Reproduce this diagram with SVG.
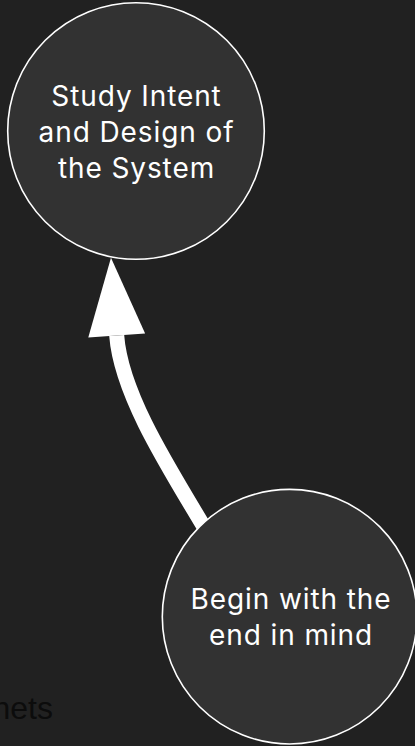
<svg xmlns="http://www.w3.org/2000/svg" width="415" height="746" viewBox="0 0 415 746">
  <style>
    .node circle { fill: #323232; stroke: #ffffff; stroke-width: 1.6; }
    .node text { font-family: Inter, "Noto Sans", sans-serif; font-size: 28px; letter-spacing: 0.9px; fill: #ffffff; text-anchor: middle; }
    .edge { fill: none; stroke: #ffffff; stroke-width: 15; }
    .bg-text { font-family: "Liberation Sans", Arial, sans-serif; font-size: 32px; fill: #0c0c0c; }
  </style>
  <defs>
    <marker id="head" markerUnits="userSpaceOnUse" markerWidth="90" markerHeight="70" refX="0" refY="35" viewBox="0 0 90 70" orient="auto" overflow="visible">
      <path d="M0,6.5 L78,35 L0,63.5 Z" fill="#ffffff"/>
    </marker>
  </defs>
  <rect x="0" y="0" width="415" height="746" fill="#212121"/>
  <text class="bg-text" x="53" y="719" text-anchor="end">nets</text>
  <g id="connectors">
    <path class="edge" d="M215,545 C170,470 121.1,395.3 116.7,335.5" marker-end="url(#head)"/>
  </g>
  <g id="node-study" class="node">
    <circle cx="136" cy="131" r="128.3"/>
    <text x="136.5" y="106">Study Intent</text>
    <text x="136.5" y="142">and Design of</text>
    <text x="136.5" y="177.5">the System</text>
  </g>
  <g id="node-begin" class="node">
    <circle cx="289.6" cy="616.7" r="127.3"/>
    <text x="291" y="609.3">Begin with the</text>
    <text x="291" y="645.3">end in mind</text>
  </g>
</svg>
